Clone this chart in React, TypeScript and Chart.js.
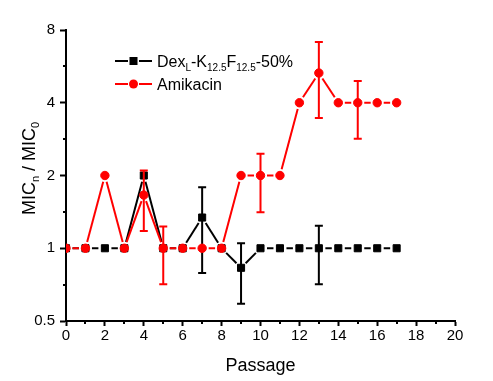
import React, { useEffect, useRef } from "react";
import { Chart, registerables } from "chart.js";

Chart.register(...registerables);

// ---- data ----
const passages = [0, 1, 2, 3, 4, 5, 6, 7, 8, 9, 10, 11, 12, 13, 14, 15, 16, 17];
const dexValues = [1, 1, 1, 1, 2, 1, 1, 1.34, 1, 0.83, 1, 1, 1, 1, 1, 1, 1, 1];
const dexErrLow: (number | null)[] = [null, null, null, null, null, null, null, 0.79, null, 0.59, null, null, null, 0.71, null, null, null, null];
const dexErrHigh: (number | null)[] = [null, null, null, null, null, null, null, 1.79, null, 1.05, null, null, null, 1.24, null, null, null, null];
const amiValues = [1, 1, 2, 1, 1.66, 1, 1, 1, 1, 2, 2, 2, 4, 5.31, 4, 4, 4, 4];
const amiErrLow: (number | null)[] = [null, null, null, null, 1.18, 0.71, null, null, null, null, 1.41, null, null, 3.46, null, 2.84, null, null];
const amiErrHigh: (number | null)[] = [null, null, null, null, 2.1, 1.23, null, null, null, null, 2.46, null, null, 7.14, null, 4.92, null, null];

const xMajorTicks = [0, 2, 4, 6, 8, 10, 12, 14, 16, 18, 20];
const xMinorTicks = [1, 3, 5, 7, 9, 11, 13, 15, 17, 19];
const yMajorTicks = [0.5, 1, 2, 4, 8];
const yMinorTicks = [0.7071, 1.4142, 2.8284, 5.6569];

const RED = "#ff0000";
const BLACK = "#000000";
const FONT = "'Liberation Sans', Arial, sans-serif";

const errLows = [dexErrLow, amiErrLow];
const errHighs = [dexErrHigh, amiErrHigh];
const colors = [BLACK, RED];
const gaps = [6.5, 6.5];

function drawRich(ctx: CanvasRenderingContext2D, parts: [string, boolean][], x: number, y: number, big: number, small: number, subOff: number) {
  let cx = x;
  for (const [t, sub] of parts) {
    ctx.font = `${sub ? small : big}px ${FONT}`;
    ctx.fillText(t, cx, sub ? y + subOff : y);
    cx += ctx.measureText(t).width;
  }
}

const customPlugin = {
  id: "custom",
  beforeDatasetDraw(chart: any, args: any) {
    const i = args.index;
    const pts = args.meta.data;
    const ctx = chart.ctx;
    ctx.save();
    ctx.strokeStyle = colors[i];
    ctx.lineWidth = 2;
    const g = gaps[i];
    for (let k = 0; k < pts.length - 1; k++) {
      const a = pts[k], b = pts[k + 1];
      const dx = b.x - a.x, dy = b.y - a.y;
      const L = Math.hypot(dx, dy);
      if (L <= 2 * g) continue;
      const ux = dx / L, uy = dy / L;
      ctx.beginPath();
      ctx.moveTo(a.x + ux * g, a.y + uy * g);
      ctx.lineTo(b.x - ux * g, b.y - uy * g);
      ctx.stroke();
    }
    ctx.restore();
  },
  afterDatasetDraw(chart: any, args: any) {
    const i = args.index;
    const ctx = chart.ctx;
    const ys = chart.scales.y;
    const xs = chart.scales.x;
    ctx.save();
    ctx.strokeStyle = colors[i];
    ctx.lineWidth = 2;
    const lo = errLows[i], hi = errHighs[i];
    passages.forEach((p, k) => {
      if (lo[k] == null || hi[k] == null) return;
      const px = xs.getPixelForValue(p);
      const y1 = ys.getPixelForValue(lo[k]);
      const y2 = ys.getPixelForValue(hi[k]);
      ctx.beginPath();
      ctx.moveTo(px, y1);
      ctx.lineTo(px, y2);
      ctx.moveTo(px - 4, y1);
      ctx.lineTo(px + 4, y1);
      ctx.moveTo(px - 4, y2);
      ctx.lineTo(px + 4, y2);
      ctx.stroke();
    });
    ctx.restore();
  },
  afterDraw(chart: any) {
    const ctx = chart.ctx;
    const xs = chart.scales.x;
    const ys = chart.scales.y;
    const area = chart.chartArea;
    ctx.save();
    // minor ticks
    ctx.strokeStyle = BLACK;
    ctx.lineWidth = 2;
    ctx.beginPath();
    xMinorTicks.forEach((v) => {
      const px = Math.round(xs.getPixelForValue(v));
      ctx.moveTo(px, area.bottom);
      ctx.lineTo(px, area.bottom + 3);
    });
    yMinorTicks.forEach((v) => {
      const py = Math.round(ys.getPixelForValue(v));
      ctx.moveTo(area.left, py);
      ctx.lineTo(area.left - 3, py);
    });
    ctx.stroke();

    ctx.fillStyle = BLACK;
    ctx.textBaseline = "alphabetic";
    ctx.textAlign = "left";
    // x title
    ctx.font = `18px ${FONT}`;
    const xt = "Passage";
    const w = ctx.measureText(xt).width;
    ctx.fillText(xt, (area.left + area.right) / 2 - w / 2, 371);

    // y title
    ctx.save();
    ctx.translate(35, 215);
    ctx.rotate(-Math.PI / 2);
    drawRich(ctx, [["MIC", false], ["n", true], [" / MIC", false], ["0", true]], 0, 0, 18, 11, 4);
    ctx.restore();

    // legend
    const entries = [
      { y: 61, color: BLACK, style: "rect", parts: [["Dex", false], ["L", true], ["-K", false], ["12.5", true], ["F", false], ["12.5", true], ["-50%", false]] as [string, boolean][] },
      { y: 84, color: RED, style: "circle", parts: [["Amikacin", false]] as [string, boolean][] },
    ];
    entries.forEach((e) => {
      ctx.strokeStyle = e.color;
      ctx.fillStyle = e.color;
      ctx.lineWidth = 2;
      ctx.beginPath();
      ctx.moveTo(115, e.y);
      ctx.lineTo(128, e.y);
      ctx.moveTo(139, e.y);
      ctx.lineTo(152, e.y);
      ctx.stroke();
      if (e.style === "rect") {
        ctx.fillRect(129.5, e.y - 4, 8, 8);
      } else {
        ctx.beginPath();
        ctx.arc(133.5, e.y, 4.5, 0, Math.PI * 2);
        ctx.fill();
      }
      ctx.fillStyle = BLACK;
      drawRich(ctx, e.parts, 157, e.y + 6, 16, 10, 4);
    });
    ctx.restore();
  },
};

export default function App() {
  const ref = useRef<HTMLCanvasElement | null>(null);
  useEffect(() => {
    if (!ref.current) return;
    const chart = new Chart(ref.current, {
      type: "line",
      data: {
        datasets: [
          {
            label: "DexL-K12.5F12.5-50%",
            data: passages.map((p, i) => ({ x: p, y: dexValues[i] })),
            showLine: false,
            borderColor: BLACK,
            backgroundColor: BLACK,
            pointStyle: "rect",
            pointRadius: 5,
            pointBorderWidth: 1,
            pointBackgroundColor: BLACK,
            pointBorderColor: BLACK,
            order: 1,
          },
          {
            label: "Amikacin",
            data: passages.map((p, i) => ({ x: p, y: amiValues[i] })),
            showLine: false,
            borderColor: RED,
            backgroundColor: RED,
            pointStyle: "circle",
            pointRadius: 4.2,
            pointBorderWidth: 1,
            pointBackgroundColor: RED,
            pointBorderColor: RED,
            order: 0,
          },
        ] as any,
      },
      options: {
        animation: false,
        responsive: false,
        devicePixelRatio: 1,
        layout: { padding: { top: 30, right: 38, left: 0, bottom: 0 } },
        plugins: { legend: { display: false }, tooltip: { enabled: false } },
        scales: {
          x: {
            type: "linear",
            min: 0,
            max: 20,
            afterBuildTicks: (s: any) => {
              s.ticks = xMajorTicks.map((v) => ({ value: v }));
            },
            afterFit: (s: any) => {
              s.height = 60;
            },
            ticks: { color: BLACK, font: { size: 15, family: FONT }, padding: 1, maxRotation: 0, autoSkip: false },
            grid: { display: true, drawOnChartArea: false, drawTicks: true, tickLength: 5, tickColor: BLACK, tickWidth: 2 },
            border: { display: true, color: BLACK, width: 2 },
          },
          y: {
            type: "logarithmic",
            min: 0.5,
            max: 8,
            afterBuildTicks: (s: any) => {
              s.ticks = yMajorTicks.map((v) => ({ value: v }));
            },
            afterFit: (s: any) => {
              s.width = 66;
            },
            ticks: { color: BLACK, font: { size: 15, family: FONT }, padding: 5, autoSkip: false, callback: (v: any) => String(v) },
            grid: { display: true, drawOnChartArea: false, drawTicks: true, tickLength: 6, tickColor: BLACK, tickWidth: 2 },
            border: { display: true, color: BLACK, width: 2 },
          },
        },
      } as any,
      plugins: [customPlugin],
    });
    return () => chart.destroy();
  }, []);
  return (
    <div style={{ position: "fixed", left: 0, top: 0, width: 493, height: 381, background: "#fff" }}>
      <canvas ref={ref} width={493} height={381} style={{ display: "block" }} />
    </div>
  );
}
